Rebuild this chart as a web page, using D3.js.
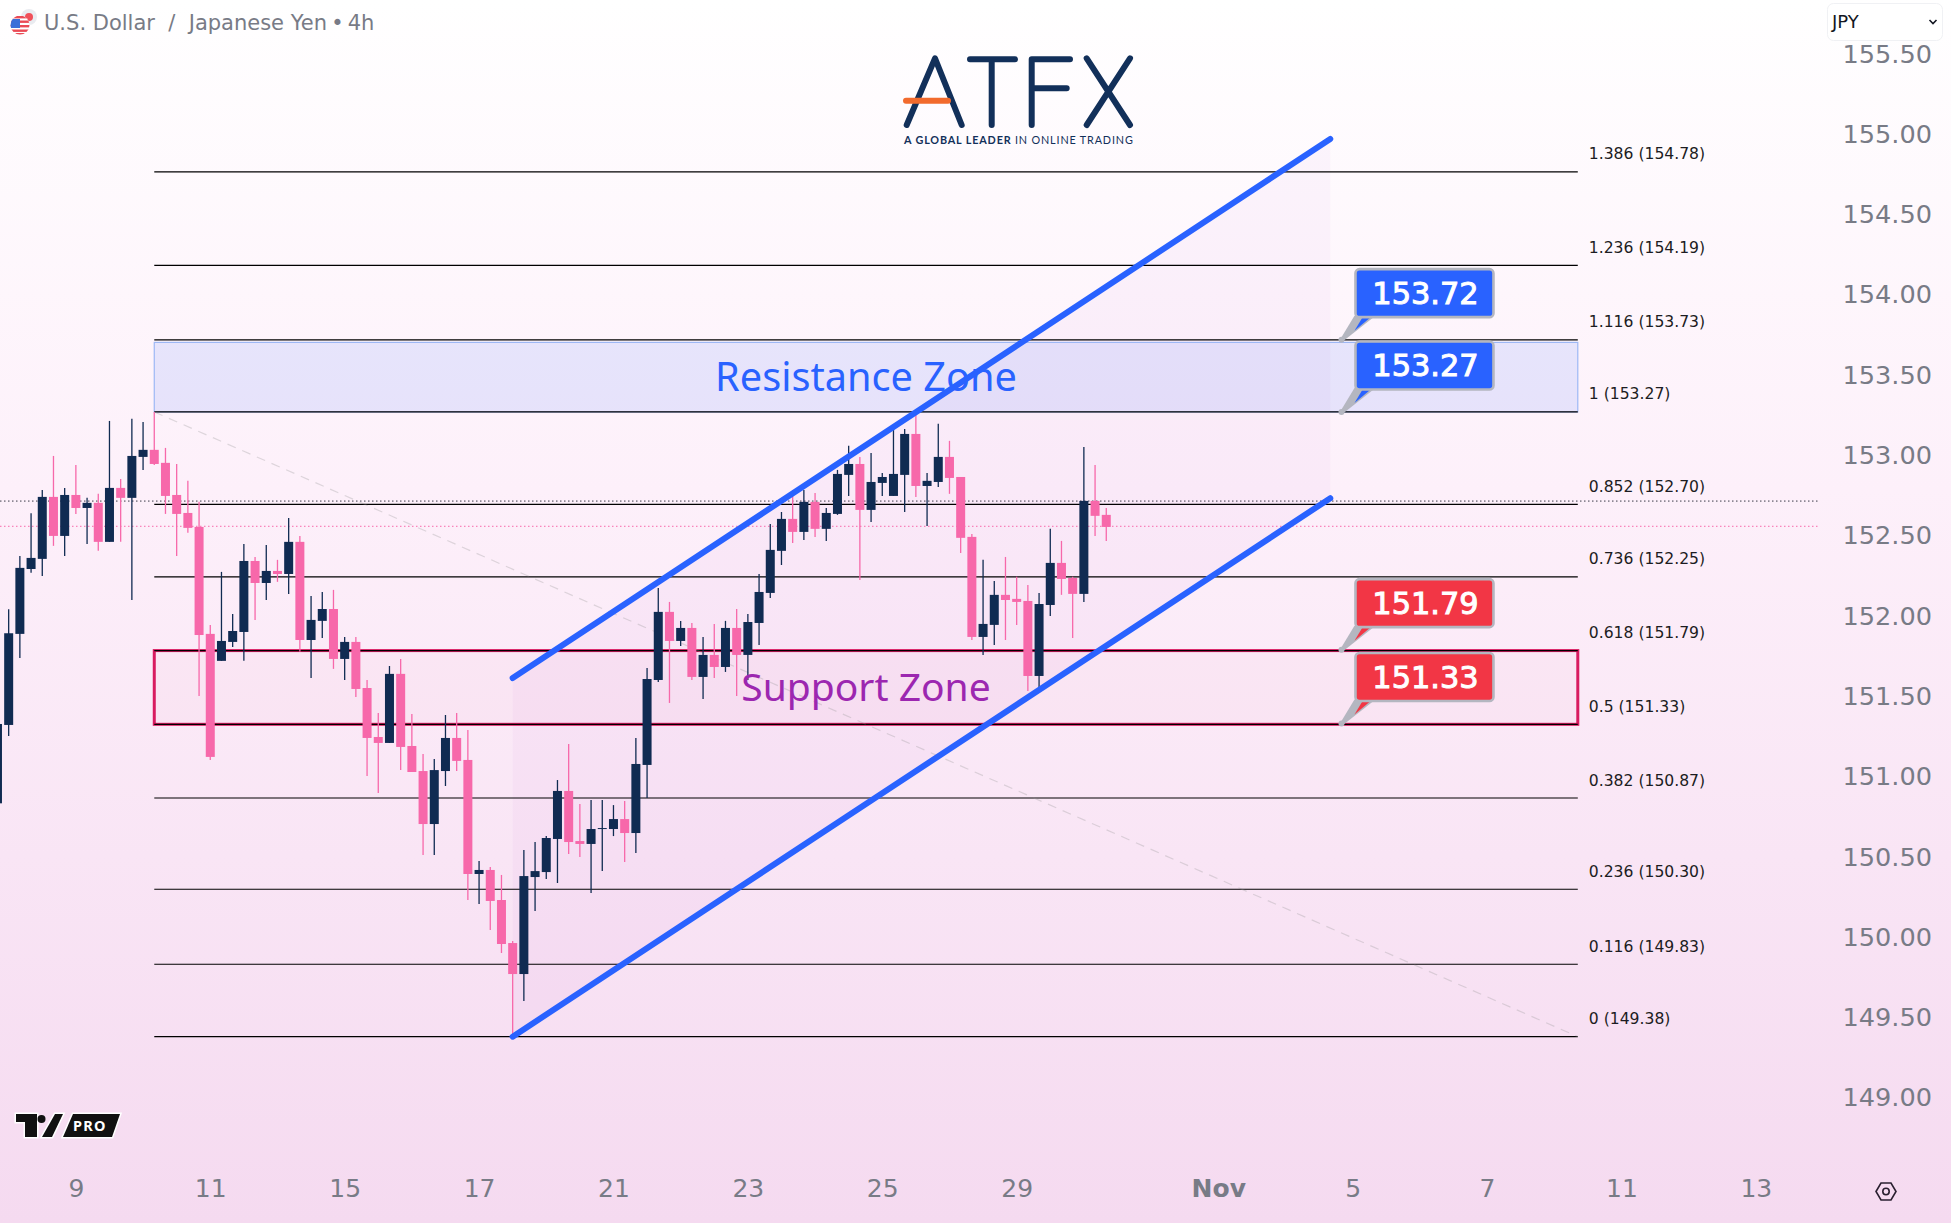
<!DOCTYPE html>
<html>
<head>
<meta charset="utf-8">
<style>
  html, body { margin: 0; padding: 0; overflow: hidden; }
  svg { display: block; }
</style>
<script src="https://cdn.jsdelivr.net/npm/d3@7"></script>
</head>
<body>
<div class="chart"></div>
<script>
// 4h candles, first bar is the one cut off at the left edge (bar index -1)
var firstBar = -1;
var opens = [150.833,
  151.321,151.888,152.292,152.355,152.741,152.498,152.753,152.672,152.704,152.461,
  152.797,152.735,152.990,153.034,152.953,152.753,152.641,152.554,151.888,151.720,
  151.838,151.900,152.342,152.205,152.280,152.261,152.461,151.850,151.969,152.043,
  151.732,151.838,151.551,151.246,151.209,151.639,151.190,151.034,150.704,151.034,
  151.240,151.103,150.393,150.418,150.231,149.963,149.770,150.374,150.405,150.611,
  150.910,150.598,150.580,150.673,150.673,150.735,150.648,151.072,151.601,152.025,
  151.844,151.925,151.620,151.757,151.682,151.925,151.757,151.956,152.143,152.405,
  152.604,152.523,152.710,152.542,152.635,152.878,152.946,152.660,152.828,152.747,
  152.878,153.133,152.809,152.834,152.990,152.865,152.492,151.869,151.944,152.131,
  152.106,152.093,151.626,152.068,152.330,152.236,152.137,152.716,152.629];
var highs = [151.327,
  152.041,152.373,152.639,152.784,152.996,152.797,152.940,152.735,152.760,153.214,
  152.853,153.227,153.208,153.270,153.046,152.946,152.841,152.710,151.944,152.274,
  152.012,152.448,152.367,152.442,152.349,152.610,152.498,152.124,152.149,152.162,
  151.869,151.869,151.601,151.396,151.688,151.732,151.389,151.140,151.109,151.383,
  151.395,151.290,150.474,150.436,150.387,149.975,150.542,150.592,150.629,150.978,
  151.202,150.829,150.854,150.854,150.822,150.847,151.240,151.676,152.174,152.087,
  151.969,151.956,151.869,151.950,151.969,152.043,152.012,152.261,152.573,152.647,
  152.784,152.784,152.766,152.672,152.909,153.059,152.990,153.015,152.890,153.177,
  153.164,153.252,152.890,153.196,153.090,152.865,152.510,152.349,152.218,152.367,
  152.243,152.193,152.143,152.542,152.467,152.243,153.052,152.940,152.672];
var lows = [150.833,
  151.252,151.738,152.268,152.249,152.436,152.373,152.635,152.448,152.405,152.461,
  152.461,152.099,152.909,152.940,152.635,152.373,152.517,151.502,151.103,151.720,
  151.807,151.720,151.975,152.099,152.212,152.137,151.776,151.614,151.863,151.670,
  151.601,151.495,151.003,150.897,151.209,151.041,151.028,150.511,150.511,150.941,
  151.034,150.231,150.206,150.044,149.901,149.380,149.602,150.162,150.362,150.337,
  150.517,150.499,150.274,150.411,150.629,150.468,150.524,150.866,151.589,151.458,
  151.813,151.601,151.483,151.614,151.651,151.502,151.601,151.819,152.112,152.317,
  152.454,152.473,152.492,152.467,152.629,152.747,152.224,152.585,152.747,152.747,
  152.647,152.741,152.560,152.803,152.760,152.392,151.850,151.757,151.819,151.850,
  151.944,151.533,151.551,152.000,152.131,151.863,152.087,152.498,152.467];
var closes = [151.327,
  151.892,152.299,152.361,152.741,152.498,152.753,152.672,152.704,152.461,152.797,
  152.735,152.996,153.034,152.946,152.747,152.635,152.548,151.881,151.122,151.844,
  151.906,152.342,152.205,152.280,152.261,152.461,151.850,151.975,152.043,151.732,
  151.838,151.545,151.240,151.209,151.639,151.184,151.028,150.704,151.040,151.240,
  151.097,150.393,150.418,150.225,149.957,149.770,150.380,150.411,150.617,150.910,
  150.592,150.580,150.673,150.679,150.735,150.648,151.078,151.607,152.025,151.844,
  151.925,151.620,151.757,151.682,151.925,151.757,151.962,152.149,152.411,152.604,
  152.523,152.710,152.542,152.641,152.884,152.946,152.660,152.834,152.865,152.884,
  153.133,152.809,152.841,152.990,152.859,152.486,151.869,151.950,152.131,152.099,
  152.087,151.626,152.074,152.330,152.230,152.137,152.716,152.623,152.554];

// axes
var priceTicks = [149,149.5,150,150.5,151,151.5,152,152.5,153,153.5,154,154.5,155,155.5];
var dateTickBars = [6,18,30,42,54,66,78,90,108,120,132,144,156];
var dateTickLabels = ["9","11","15","17","21","23","25","29","Nov","5","7","11","13"];

// fib retracement
var fibStartBar = 13, fibEndBar = 140.1;
var fibPrices = [149.38,149.831,150.298,150.866,151.325,151.784,152.243,152.694,153.27,153.719,154.183,154.765];
var fibLabels = ["0 (149.38)","0.116 (149.83)","0.236 (150.30)","0.382 (150.87)","0.5 (151.33)","0.618 (151.79)",
  "0.736 (152.25)","0.852 (152.70)","1 (153.27)","1.116 (153.73)","1.236 (154.19)","1.386 (154.78)"];

// channel, bar index and price of the ends
var channelBars = [45,118];
var channelLower = [149.38,152.733];
var channelUpper = [151.613,154.97];

// zones
var resistanceZone = [153.27,153.703];
var supportZone = [151.325,151.784];
var lastPrices = [152.715,152.558];

// callouts
var calloutBar = 119;
var calloutPrices = [153.72,153.27,151.79,151.33];
var calloutLabels = ["153.72","153.27","151.79","151.33"];
var calloutColors = ["#2962ff","#2962ff","#f23645","#f23645"];

var width = 1951, height = 1223;
var upColor = "#102b52", downColor = "#f768aa", blue = "#2962ff";

var x = d3.scaleLinear().domain([0,156]).range([8.67,1755.87]);
var y = d3.scaleLinear().domain([149,155.5]).range([1097.7,53.8]);

var svg = d3.select(".chart")
  .append("svg")
  .attr("width", width)
  .attr("height", height);

var grad = svg.append("defs").append("linearGradient")
  .attr("id", "bg").attr("x1", 0).attr("y1", 0).attr("x2", 0).attr("y2", 1);
grad.append("stop").attr("offset", 0).attr("stop-color", "#ffffff");
grad.append("stop").attr("offset", 0.4).attr("stop-color", "#fdf0fa");
grad.append("stop").attr("offset", 1).attr("stop-color", "#f5daf0");

svg.append("rect").attr("width", width).attr("height", height).attr("fill", "url(#bg)");

// channel fill
var channelPts = [
  [x(channelBars[0]), y(channelLower[0])],
  [x(channelBars[1]), y(channelLower[1])],
  [x(channelBars[1]), y(channelUpper[1])],
  [x(channelBars[0]), y(channelUpper[0])]
];
svg.append("path")
  .attr("d", d3.line()(channelPts) + "Z")
  .attr("fill", "rgba(156,39,176,0.032)");

// resistance / support boxes
svg.append("rect")
  .attr("x", x(fibStartBar)).attr("width", x(fibEndBar) - x(fibStartBar))
  .attr("y", y(resistanceZone[1])).attr("height", y(resistanceZone[0]) - y(resistanceZone[1]))
  .attr("fill", "rgba(41,98,255,0.11)")
  .attr("stroke", "#9db8f5").attr("stroke-width", 1.2);
svg.append("rect")
  .attr("x", x(fibStartBar)).attr("width", x(fibEndBar) - x(fibStartBar))
  .attr("y", y(supportZone[1])).attr("height", y(supportZone[0]) - y(supportZone[1]))
  .attr("fill", "rgba(216,27,96,0.025)")
  .attr("stroke", "#d81b60").attr("stroke-width", 3);

// fib levels
svg.selectAll(".fib").data(fibPrices).enter().append("line")
  .attr("class", "fib")
  .attr("x1", x(fibStartBar)).attr("x2", x(fibEndBar))
  .attr("y1", function(d) { return y(d); })
  .attr("y2", function(d) { return y(d); })
  .attr("stroke", "#000").attr("stroke-width", 1.2);

svg.selectAll(".fibLabel").data(fibPrices).enter().append("text")
  .attr("class", "fibLabel")
  .attr("x", x(fibEndBar) + 11)
  .attr("y", function(d) { return y(d) - 12.5; })
  .attr("font-family", "DejaVu Sans").attr("font-size", 15.6)
  .attr("fill", "#1c1c22")
  .text(function(d, i) { return fibLabels[i]; });

// fib trend line
svg.append("line")
  .attr("x1", x(fibStartBar)).attr("y1", y(fibPrices[8]))
  .attr("x2", x(fibEndBar)).attr("y2", y(fibPrices[0]))
  .attr("stroke", "rgba(150,150,150,0.3)").attr("stroke-width", 1.2)
  .attr("stroke-dasharray", "9,7");

// last price dotted lines
svg.selectAll(".last").data(lastPrices).enter().append("line")
  .attr("class", "last")
  .attr("x1", 0).attr("x2", 1820)
  .attr("y1", function(d) { return y(d); })
  .attr("y2", function(d) { return y(d); })
  .attr("stroke", function(d, i) { return i == 0 ? "#3a3a48" : "#f768aa"; })
  .attr("stroke-width", 1)
  .attr("stroke-dasharray", "1.5,2.5");

// candles
var bars = svg.selectAll(".bar").data(opens).enter().append("g").attr("class", "bar");
function barColor(d, i) { return closes[i] >= d ? upColor : downColor; }
function barX(i) { return x(firstBar + i); }

bars.append("line")
  .attr("x1", function(d, i) { return barX(i); })
  .attr("x2", function(d, i) { return barX(i); })
  .attr("y1", function(d, i) { return y(highs[i]); })
  .attr("y2", function(d, i) { return y(lows[i]); })
  .attr("stroke", barColor).attr("stroke-width", 1.3);

bars.append("rect")
  .attr("x", function(d, i) { return barX(i) - 4.5; })
  .attr("width", 9)
  .attr("y", function(d, i) { return y(Math.max(d, closes[i])); })
  .attr("height", function(d, i) { return Math.max(1, Math.abs(y(d) - y(closes[i]))); })
  .attr("fill", barColor);

// channel lines
[channelLower, channelUpper].forEach(function(c) {
  svg.append("line")
    .attr("x1", x(channelBars[0])).attr("y1", y(c[0]))
    .attr("x2", x(channelBars[1])).attr("y2", y(c[1]))
    .attr("stroke", blue).attr("stroke-width", 6)
    .attr("stroke-linecap", "round");
});

// zone titles
svg.append("text")
  .attr("x", 866).attr("y", 391)
  .attr("text-anchor", "middle")
  .attr("font-family", "Noto Sans").attr("font-size", 39.7)
  .attr("fill", blue)
  .text("Resistance Zone");
svg.append("text")
  .attr("x", 866).attr("y", 701)
  .attr("text-anchor", "middle")
  .attr("font-family", "Noto Sans").attr("font-size", 39)
  .attr("fill", "#9c27b0")
  .text("Support Zone");

// callouts
var callouts = svg.selectAll(".callout").data(calloutPrices).enter().append("g")
  .attr("class", "callout")
  .attr("transform", function(d) { return "translate(" + x(calloutBar) + "," + y(d) + ")"; });
callouts.append("path")
  .attr("d", "M-1.5,0L13,-24L34,-24L1.5,1.5Z")
  .attr("fill", "#b4b6c0");
callouts.append("path")
  .attr("d", "M13,-9L22,-24L31,-24Z")
  .attr("fill", function(d, i) { return calloutColors[i]; });
callouts.append("circle").attr("r", 3).attr("fill", "#b4b6c0");
callouts.append("rect")
  .attr("x", 14).attr("y", -70.5)
  .attr("width", 138).attr("height", 48)
  .attr("rx", 4)
  .attr("fill", function(d, i) { return calloutColors[i]; })
  .attr("stroke", "#b4b6c0").attr("stroke-width", 2.6);
callouts.append("text")
  .attr("x", 84).attr("y", -35.5)
  .attr("text-anchor", "middle")
  .attr("font-family", "DejaVu Sans").attr("font-size", 30.4)
  .attr("fill", "#fff").attr("stroke", "#fff").attr("stroke-width", 1)
  .text(function(d, i) { return calloutLabels[i]; });

// price axis
var yAxis = svg.append("g")
  .attr("transform", "translate(1932,0)")
  .call(d3.axisLeft(y).tickValues(priceTicks).tickSize(0).tickPadding(0).tickFormat(d3.format(".2f")));
yAxis.select(".domain").remove();
yAxis.selectAll("text")
  .attr("font-family", "DejaVu Sans").attr("font-size", 25.6)
  .attr("fill", "#787b86");

// time axis
var xAxis = svg.append("g")
  .attr("transform", "translate(0,1179)")
  .call(d3.axisBottom(x).tickValues(dateTickBars).tickSize(0).tickPadding(0)
    .tickFormat(function(d, i) { return dateTickLabels[i]; }));
xAxis.select(".domain").remove();
xAxis.selectAll("text")
  .attr("font-family", "DejaVu Sans").attr("font-size", 25)
  .attr("fill", "#787b86")
  .attr("font-weight", function(d, i) { return dateTickLabels[i] == "Nov" ? "bold" : "normal"; });

// title
svg.append("text")
  .attr("x", 44).attr("y", 30)
  .attr("font-family", "DejaVu Sans").attr("font-size", 21)
  .attr("fill", "#787b86")
  .text("U.S. Dollar\u00a0\u00a0/\u00a0\u00a0Japanese Yen\u2009•\u20094h");

// flag icon
var flag = svg.append("g");
flag.append("circle").attr("cx", 29).attr("cy", 17).attr("r", 8).attr("fill", "#e9ebf0");
flag.append("circle").attr("cx", 29).attr("cy", 17).attr("r", 4).attr("fill", "#f0505a");
flag.append("circle").attr("cx", 20).attr("cy", 25).attr("r", 9.5).attr("fill", "#fff");
var flagClip = svg.select("defs").append("clipPath").attr("id", "flagClip");
flagClip.append("circle").attr("cx", 20).attr("cy", 25).attr("r", 9.5);
var flagIn = flag.append("g").attr("clip-path", "url(#flagClip)");
[16, 20.5, 25, 29.5, 33].forEach(function(s) {
  flagIn.append("rect").attr("x", 10).attr("y", s).attr("width", 20).attr("height", 2.4).attr("fill", "#ea4a55");
});
flagIn.append("rect").attr("x", 10).attr("y", 19).attr("width", 10).attr("height", 9).attr("fill", "#3a6fd8");

// currency box
svg.append("rect")
  .attr("x", 1827.5).attr("y", 3.5).attr("width", 115).attr("height", 37).attr("rx", 6)
  .attr("fill", "#fff").attr("stroke", "#f0f1f4");
svg.append("text")
  .attr("x", 1832).attr("y", 28)
  .attr("font-family", "DejaVu Sans").attr("font-size", 18)
  .attr("fill", "#131722")
  .text("JPY");
svg.append("path")
  .attr("d", "M1929.5,20L1933,23.5L1936.5,20")
  .attr("fill", "none").attr("stroke", "#131722").attr("stroke-width", 1.6);

// settings icon
svg.append("path")
  .attr("d", "M1876,1191.5L1881,1183L1891,1183L1896,1191.5L1891,1200L1881,1200Z")
  .attr("fill", "none").attr("stroke", "#2a2030").attr("stroke-width", 1.6);
svg.append("circle")
  .attr("cx", 1886).attr("cy", 1191.5).attr("r", 3.2)
  .attr("fill", "none").attr("stroke", "#2a2030").attr("stroke-width", 1.6);

// tv pro badge
var badge = svg.append("g");
var badgePaths = [
  "M16,1114L37,1114L37,1137L25,1137L25,1122L16,1122Z",
  "M55,1114L63,1114L52,1137L42,1137Z",
  "M73,1114L120,1114L112,1137L63,1137Z"
];
badgePaths.forEach(function(p) {
  badge.append("path").attr("d", p).attr("fill", "#111")
    .attr("stroke", "#fff").attr("stroke-width", 3).attr("paint-order", "stroke");
});
badge.append("circle").attr("cx", 41.5).attr("cy", 1119).attr("r", 4).attr("fill", "#111");
badge.append("text")
  .attr("x", 73).attr("y", 1131)
  .attr("font-family", "Noto Sans").attr("font-weight", "bold").attr("font-size", 14.5)
  .attr("letter-spacing", 1.2)
  .attr("fill", "#fff")
  .text("PRO");

// atfx logo
var logoPaths = [
  "M906.7,125L935,58.3L961.7,125",
  "M970,59.3L1015,59.3M991.7,59.3L991.7,125",
  "M1031.7,125L1031.7,59.3L1070,59.3M1031.7,88.3L1066.7,88.3",
  "M1086.7,58.3L1130,125M1130,58.3L1086.7,125"
];
logoPaths.forEach(function(p) {
  svg.append("path").attr("d", p).attr("fill", "none")
    .attr("stroke", "#12305a").attr("stroke-width", 6)
    .attr("stroke-linecap", "round").attr("stroke-linejoin", "round");
});
svg.append("line")
  .attr("x1", 906).attr("x2", 948).attr("y1", 100.7).attr("y2", 100.7)
  .attr("stroke", "#f26b2d").attr("stroke-width", 6).attr("stroke-linecap", "round");
var logoText = svg.append("text")
  .attr("x", 904).attr("y", 144)
  .attr("font-family", "Lato").attr("font-size", 10.8)
  .attr("letter-spacing", 0.85)
  .attr("fill", "#12305a");
logoText.append("tspan").attr("font-weight", "bold").text("A GLOBAL LEADER ");
logoText.append("tspan").text("IN ONLINE TRADING");
</script>
</body>
</html>
